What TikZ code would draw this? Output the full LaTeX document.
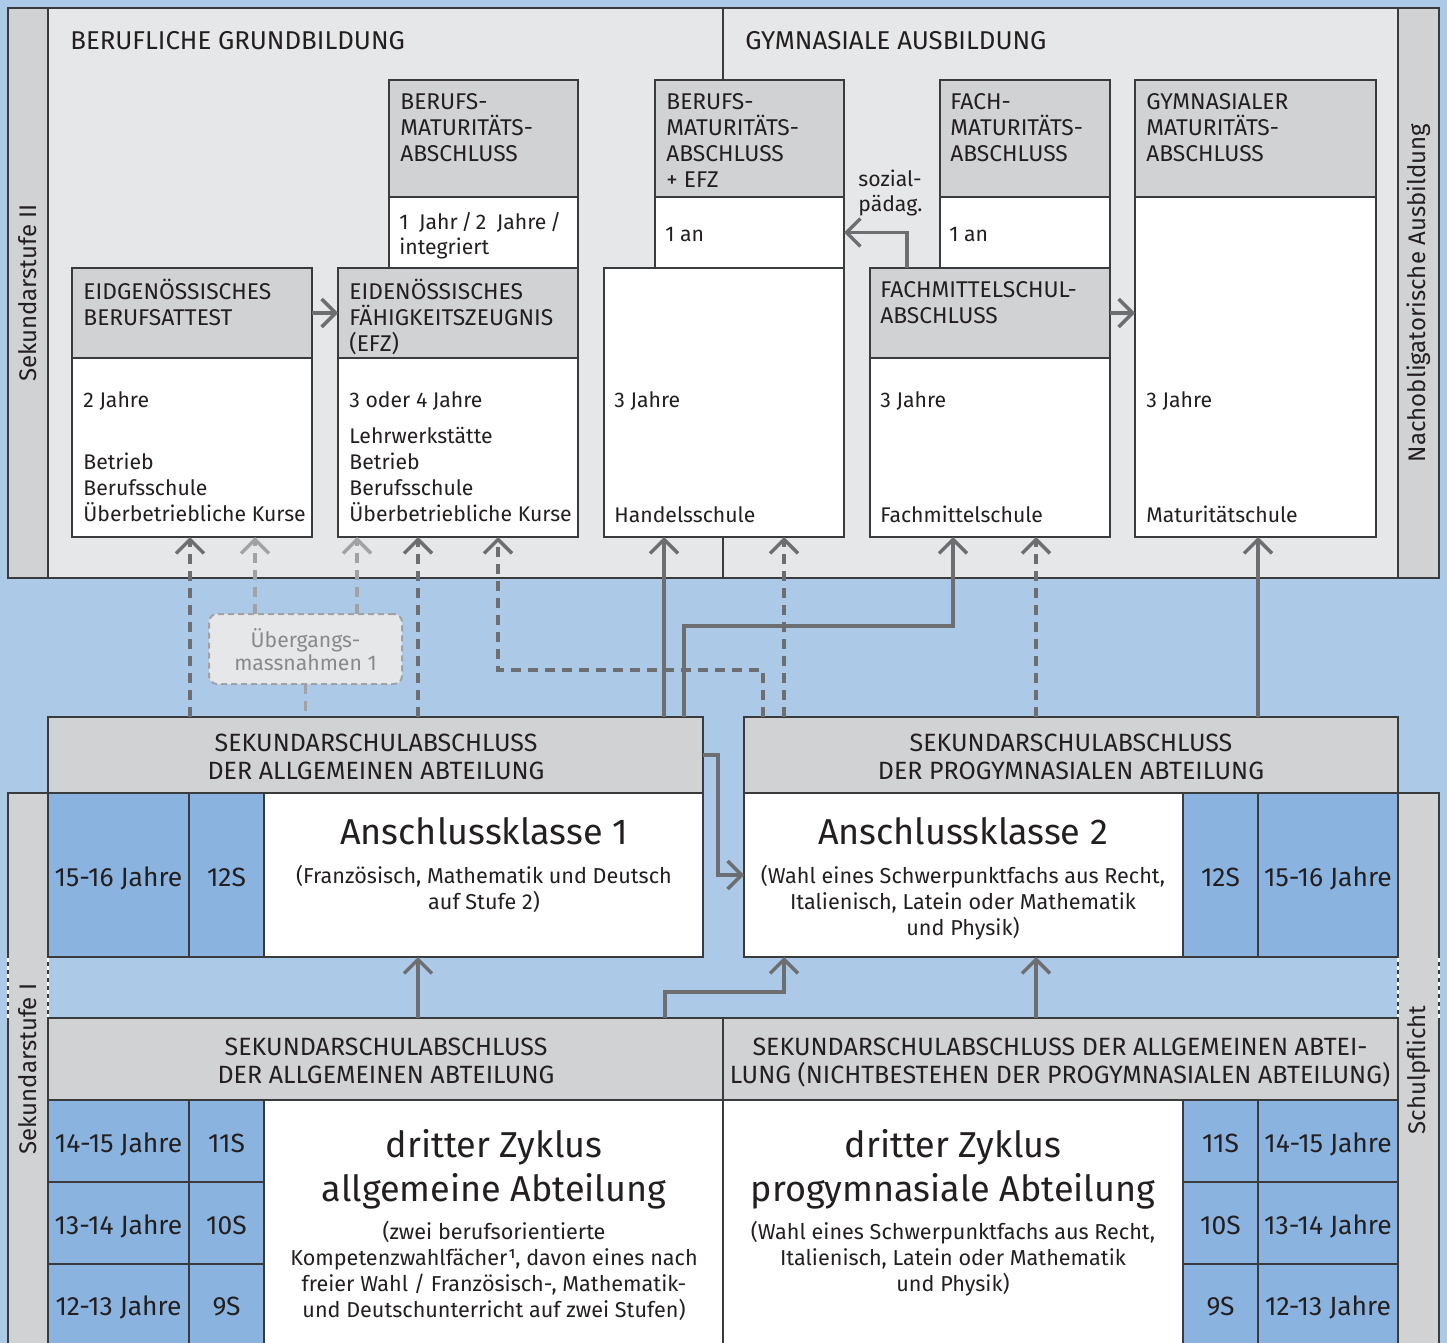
\documentclass[tikz,border=0pt]{standalone}
\usepackage{fontspec}
\setmainfont{Fira Sans}
\usetikzlibrary{arrows.meta}
\definecolor{bgblue}{HTML}{ADC9E8}
\definecolor{cellblue}{HTML}{8AB4DF}
\definecolor{panelc}{HTML}{E6E7E8}
\definecolor{hdrgray}{HTML}{D1D2D4}
\definecolor{txtc}{HTML}{231F20}
\definecolor{conc}{HTML}{6D6E71}
\definecolor{lconc}{HTML}{A0A2A5}
\definecolor{bordc}{HTML}{3A3B3D}
\definecolor{ltxt}{HTML}{87898C}
\newcommand\mkbox[6]{\node[#2, anchor=north west, minimum width={(#5-#3)*0.5pt}, minimum height={(#6-#4)*0.5pt}] (#1) at (#3,#4) {};}
\newcommand\fstr{\vrule height .7\baselineskip depth 0pt width 0pt}
\tikzset{
  boxbase/.style={draw=bordc, line width=1pt, inner sep=0pt, outer sep=0pt},
  pnl/.style={boxbase, fill=panelc},
  strp/.style={boxbase, fill=hdrgray},
  hdr/.style={boxbase, fill=hdrgray},
  wht/.style={boxbase, fill=white},
  blu/.style={boxbase, fill=cellblue},
  uebox/.style={draw=lconc, line width=1pt, dash pattern=on 3pt off 2pt, fill=panelc, rounded corners=4pt, inner sep=0pt, outer sep=0pt},
  tl/.style={anchor=north west, align=left, inner sep=0pt, text=txtc, font=\fontsize{10.6}{13}\selectfont},
  tlc/.style={anchor=north west, align=left, inner sep=0pt, text=txtc, font=\fontsize{11.4}{13}\selectfont},
  tc/.style={anchor=north, align=center, inner sep=0pt, text=txtc, font=\fontsize{10.8}{13}\selectfont},
  ttl/.style={anchor=north west, align=left, inner sep=0pt, text=txtc, font=\fontsize{12.9}{15}\selectfont},
  sek/.style={anchor=north, align=center, inner sep=0pt, text=txtc, font=\fontsize{12.5}{14}\selectfont},
  big/.style={anchor=north, align=center, inner sep=0pt, text=txtc, font=\fontsize{18}{22}\selectfont},
  age/.style={anchor=base, inner sep=0pt, text=txtc, font=\fontsize{13.2}{15}\selectfont},
  rot/.style={rotate=90, inner sep=0pt, text=txtc, font=\fontsize{12}{14}\selectfont},
  conn/.style={draw=conc, line width=1.7pt, -{Straight Barb[length=7pt,width=14pt]}},
  dconn/.style={conn, dash pattern=on 5pt off 3.5pt},
  lconn/.style={dconn, draw=lconc},
  lline/.style={draw=lconc, line width=1.7pt, dash pattern=on 5pt off 3.5pt},
  divl/.style={draw=bordc, line width=1pt},
  wdash/.style={draw=white, line width=1pt, dash pattern=on 2pt off 2pt}
}
\begin{document}
\begin{tikzpicture}[x=0.5pt,y=-0.5pt]
\useasboundingbox (0,0) rectangle (1447,1343);
\clip (0,0) rectangle (1447,1343);
\fill[bgblue] (0,0) rectangle (1447,1343);
% top panel
\mkbox{panel}{pnl}{8}{8}{1439}{578}
\mkbox{stripL}{strp}{8}{8}{48}{578}
\mkbox{stripR}{strp}{1398}{8}{1439}{578}
\draw[divl] (723,0 |- panel.north) -- (723,0 |- panel.south);
\node[ttl] (tBG) at (70,31) {BERUFLICHE GRUNDBILDUNG};
\node[ttl] (tGA) at (745,31) {GYMNASIALE AUSBILDUNG};
\node[rot] (rS2) at (28,293) {Sekundarstufe II};
\node[rot] (rNA) at (1419,293) {Nachobligatorische Ausbildung};
% top boxes
\mkbox{bmH}{hdr}{389}{80}{578}{197}
\mkbox{bmW}{wht}{389}{197}{578}{268}
\mkbox{ebaH}{hdr}{72}{268}{312}{358}
\mkbox{ebaW}{wht}{72}{358}{312}{537}
\mkbox{efzH}{hdr}{338}{268}{578}{358}
\mkbox{efzW}{wht}{338}{358}{578}{537}
\mkbox{bmeH}{hdr}{655}{80}{844}{197}
\mkbox{bmeW}{wht}{655}{197}{844}{268}
\mkbox{hdl}{wht}{604}{268}{844}{537}
\mkbox{fmH}{hdr}{940}{80}{1110}{197}
\mkbox{fmW}{wht}{940}{197}{1110}{268}
\mkbox{fmsH}{hdr}{870}{268}{1110}{358}
\mkbox{fmsW}{wht}{870}{358}{1110}{537}
\mkbox{gymH}{hdr}{1135}{80}{1376}{197}
\mkbox{gymW}{wht}{1135}{197}{1376}{537}
% top texts
\node[tlc] (t1) at (400,90.5) {\fstr BERUFS-\\MATURITÄTS-\\ABSCHLUSS};
\node[tl] (t2) at (399,210.4) {\fstr 1\enspace Jahr\,/\,2\enspace Jahre\,/\\integriert};
\node[tlc] (t3) at (83,278.9) {\fstr EIDGENÖSSISCHES\\BERUFSATTEST};
\node[tl] (t4) at (83,388.4) {\fstr 2 Jahre};
\node[tl] (t5) at (83,450.4) {\fstr Betrieb\\Berufsschule\\Überbetriebliche Kurse};
\node[tlc] (t6) at (349,278.9) {\fstr EIDENÖSSISCHES\\FÄHIGKEITSZEUGNIS\\(EFZ)};
\node[tl] (t7) at (349,388.4) {\fstr 3 oder 4 Jahre};
\node[tl] (t8) at (349,424.4) {\fstr Lehrwerkstätte\\Betrieb\\Berufsschule\\Überbetriebliche Kurse};
\node[tlc] (t9) at (666,90.5) {\fstr BERUFS-\\MATURITÄTS-\\ABSCHLUSS\\+ EFZ};
\node[tl] (t10) at (665,223.4) {\fstr 1 an};
\node[tl] (t11) at (614,388.4) {\fstr 3 Jahre};
\node[tl] (t12) at (614,503.4) {\fstr Handelsschule};
\node[tl] (t13) at (858,167.4) {\fstr sozial-\\pädag.};
\node[tlc] (t14) at (950,90.5) {\fstr FACH-\\MATURITÄTS-\\ABSCHLUSS};
\node[tl] (t15) at (949,223.4) {\fstr 1 an};
\node[tlc] (t16) at (880,278.9) {\fstr FACHMITTELSCHUL-\\ABSCHLUSS};
\node[tl] (t17) at (880,388.4) {\fstr 3 Jahre};
\node[tl] (t18) at (880,503.4) {\fstr Fachmittelschule};
\node[tlc] (t19) at (1146,90.5) {\fstr GYMNASIALER\\MATURITÄTS-\\ABSCHLUSS};
\node[tl] (t20) at (1146,388.4) {\fstr 3 Jahre};
\node[tl] (t21) at (1146,503.4) {\fstr Maturitätschule};
% middle
\mkbox{sekA}{hdr}{48}{717}{703}{793}
\mkbox{sekB}{hdr}{744}{717}{1398}{793}
\mkbox{uem}{uebox}{209}{614}{402}{684}
\node[tc, text=ltxt, font=\fontsize{10.6}{11.5}\selectfont] (tU) at (305.5,628) {\fstr Übergangs-\\massnahmen 1};
\node[sek] (tSA) at (376,731.7) {\fstr SEKUNDARSCHULABSCHLUSS\\DER ALLGEMEINEN ABTEILUNG};
\node[sek] (tSB) at (1071,731.7) {\fstr SEKUNDARSCHULABSCHLUSS\\DER PROGYMNASIALEN ABTEILUNG};
% lower frame
\mkbox{stripLL}{strp}{8}{793}{48}{1360}
\mkbox{stripRL}{strp}{1398}{793}{1439}{1360}
\draw[wdash] (8,958) -- (8,1018);
\draw[wdash] (48,958) -- (48,1018);
\draw[wdash] (1398,958) -- (1398,1018);
\draw[wdash] (1439,958) -- (1439,1018);
\node[rot] (rS1) at (28,1069) {Sekundarstufe I};
\node[rot] (rSP) at (1419,1070) {Schulpflicht};
% Anschlussklassen
\mkbox{a1age}{blu}{48}{793}{189}{957}
\mkbox{a1s}{blu}{189}{793}{264}{957}
\mkbox{ak1}{wht}{264}{793}{703}{957}
\mkbox{ak2}{wht}{744}{793}{1183}{957}
\mkbox{a2s}{blu}{1183}{793}{1258}{957}
\mkbox{a2age}{blu}{1258}{793}{1398}{957}
\node[age] (g1) at (118.5,886) {15-16 Jahre};
\node[age] (g2) at (226.5,886) {12S};
\node[age] (g3) at (1220.5,886) {12S};
\node[age] (g4) at (1328,886) {15-16 Jahre};
\node[big] (tAK1) at (484,813) {\fstr Anschlussklasse 1};
\node[tc] (tAK1b) at (484,864.4) {\fstr (Französisch, Mathematik und Deutsch\\auf Stufe 2)};
\node[big] (tAK2) at (963,813) {\fstr Anschlussklasse 2};
\node[tc] (tAK2b) at (963,864.4) {\fstr (Wahl eines Schwerpunktfachs aus Recht,\\Italienisch, Latein oder Mathematik\\und Physik)};
% bottom
\mkbox{bhA}{hdr}{48}{1018}{723}{1100}
\mkbox{bhB}{hdr}{723}{1018}{1398}{1100}
\node[sek] (tBA) at (386,1035.7) {\fstr SEKUNDARSCHULABSCHLUSS\\DER ALLGEMEINEN ABTEILUNG};
\node[sek] (tBB) at (1060,1035.7) {\fstr SEKUNDARSCHULABSCHLUSS DER ALLGEMEINEN ABTEI-\\LUNG (NICHTBESTEHEN DER PROGYMNASIALEN ABTEILUNG)};
\mkbox{l1a}{blu}{48}{1100}{189}{1182}
\mkbox{l1s}{blu}{189}{1100}{264}{1182}
\mkbox{l2a}{blu}{48}{1182}{189}{1264}
\mkbox{l2s}{blu}{189}{1182}{264}{1264}
\mkbox{l3a}{blu}{48}{1264}{189}{1360}
\mkbox{l3s}{blu}{189}{1264}{264}{1360}
\mkbox{r1s}{blu}{1183}{1100}{1258}{1182}
\mkbox{r1a}{blu}{1258}{1100}{1398}{1182}
\mkbox{r2s}{blu}{1183}{1182}{1258}{1264}
\mkbox{r2a}{blu}{1258}{1182}{1398}{1264}
\mkbox{r3s}{blu}{1183}{1264}{1258}{1360}
\mkbox{r3a}{blu}{1258}{1264}{1398}{1360}
\mkbox{dzA}{wht}{264}{1100}{723}{1360}
\mkbox{dzB}{wht}{723}{1100}{1183}{1360}
\node[age] (h1) at (118.5,1152) {14-15 Jahre};
\node[age] (h2) at (118.5,1234) {13-14 Jahre};
\node[age] (h3) at (118.5,1315) {12-13 Jahre};
\node[age] (h4) at (226.5,1152) {11S};
\node[age] (h5) at (226.5,1234) {10S};
\node[age] (h6) at (226.5,1315) {9S};
\node[age] (h7) at (1220.5,1152) {11S};
\node[age] (h8) at (1220.5,1234) {10S};
\node[age] (h9) at (1220.5,1315) {9S};
\node[age] (h10) at (1328,1152) {14-15 Jahre};
\node[age] (h11) at (1328,1234) {13-14 Jahre};
\node[age] (h12) at (1328,1315) {12-13 Jahre};
\node[big] (tDZA) at (494,1126) {\fstr dritter Zyklus\\allgemeine Abteilung};
\node[tc] (tDZAb) at (494,1220.4) {\fstr (zwei berufsorientierte\\Kompetenzwahlfächer¹, davon eines nach\\freier Wahl / Französisch-, Mathematik-\\und Deutschunterricht auf zwei Stufen)};
\node[big] (tDZB) at (953,1126) {\fstr dritter Zyklus\\progymnasiale Abteilung};
\node[tc] (tDZBb) at (953,1220.4) {\fstr (Wahl eines Schwerpunktfachs aus Recht,\\Italienisch, Latein oder Mathematik\\und Physik)};
% connectors top
\draw[conn] (ebaH.east) -- (efzH.west);
\draw[conn] (fmsH.east) -- (fmsH.east -| gymW.west);
\draw[conn] (907,0 |- fmsH.north) |- (bmeW.east);
% connectors middle
\draw[lconn] (255,0 |- uem.north) -- (255,0 |- ebaW.south);
\draw[lconn] (357,0 |- uem.north) -- (357,0 |- efzW.south);
\draw[lline] (uem.south) -- (uem.south |- sekA.north);
\draw[dconn] (190,0 |- sekA.north) -- (190,0 |- ebaW.south);
\draw[dconn] (418,0 |- sekA.north) -- (418,0 |- efzW.south);
\draw[dconn] (763,0 |- sekB.north) -- (763,670) -| (498,0 |- efzW.south);
\draw[dconn] (784,0 |- sekB.north) -- (784,0 |- hdl.south);
\draw[dconn] (1036,0 |- sekB.north) -- (1036,0 |- fmsW.south);
\draw[conn] (664,0 |- sekA.north) -- (664,0 |- hdl.south);
\draw[conn] (684,0 |- sekA.north) -- (684,626) -| (953,0 |- fmsW.south);
\draw[conn] (1258,0 |- sekB.north) -- (1258,0 |- gymW.south);
\draw[conn] (sekA.east) -- (718,0 |- sekA.east) -- (718,0 |- ak2.west) -- (ak2.west);
% connectors bottom
\draw[conn] (418,0 |- bhA.north) -- (418,0 |- ak1.south);
\draw[conn] (665,0 |- bhA.north) -- (665,992) -| (784,0 |- ak2.south);
\draw[conn] (1036,0 |- bhB.north) -- (1036,0 |- ak2.south);
\end{tikzpicture}
\end{document}
